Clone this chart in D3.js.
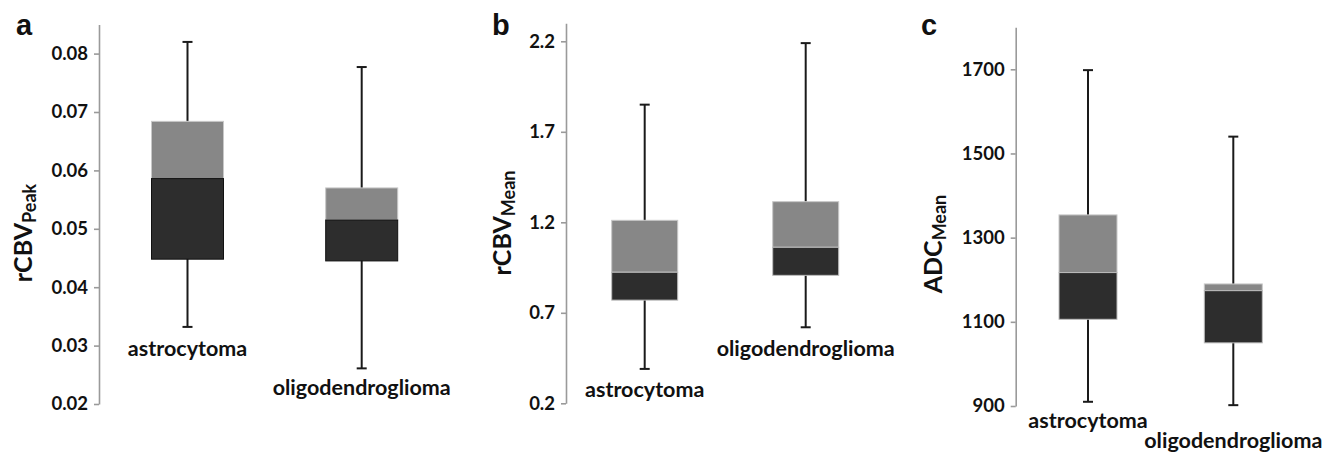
<!DOCTYPE html>
<html>
<head>
<meta charset="utf-8">
<script src="https://cdn.jsdelivr.net/npm/d3@7"></script>
<style>
  body { margin: 0; background: #fff; }
  svg { display: block; }
  .tick text { font-family: Lato, sans-serif; font-weight: 700; font-size: 18.5px; fill: #111; }
  .cat { font-family: Lato, sans-serif; font-weight: 700; font-size: 21.5px; fill: #111; }
  .ytitle { font-family: Lato, sans-serif; font-weight: 700; font-size: 25px; fill: #111; }
  .letter { font-family: "Liberation Sans", Arial, sans-serif; font-weight: 700; font-size: 29px; fill: #111; }
</style>
</head>
<body>
<svg width="1336" height="455"></svg>
<script>
// groups
const categories = ['astrocytoma', 'oligodendroglioma'];

// a - rCBV peak
const peakMin = [0.0332, 0.0261];
const peakQ1 = [0.0448, 0.0445];
const peakMedian = [0.0586, 0.0515];
const peakQ3 = [0.0684, 0.0570];
const peakMax = [0.0820, 0.0777];
const peakTicks = [0.02, 0.03, 0.04, 0.05, 0.06, 0.07, 0.08];

// b - rCBV mean
const rcbvMin = [0.39, 0.62];
const rcbvQ1 = [0.77, 0.907];
const rcbvMedian = [0.924, 1.062];
const rcbvQ3 = [1.211, 1.314];
const rcbvMax = [1.85, 2.19];
const rcbvTicks = [0.2, 0.7, 1.2, 1.7, 2.2];

// c - ADC mean
const adcMin = [910, 902];
const adcQ1 = [1106, 1050];
const adcMedian = [1217, 1174];
const adcQ3 = [1354, 1190];
const adcMax = [1698, 1540];
const adcTicks = [900, 1100, 1300, 1500, 1700];

const svg = d3.select('svg');

const panels = [
  {letter: 'a', lx: 16, title: 'rCBV', sub: 'Peak', tx: 32, ty: 233,
   axisX: 99, domain: [0.02, 0.085], range: [404, 24.4], ticks: peakTicks, fmt: d3.format('.2f'),
   xr: [187.5, 361.7], boxW: 72, labelDy: [29, 27],
   min: peakMin, q1: peakQ1, med: peakMedian, q3: peakQ3, max: peakMax},
  {letter: 'b', lx: 492, title: 'rCBV', sub: 'Mean', tx: 511, ty: 223,
   axisX: 566, domain: [0.2, 2.3], range: [403.3, 23.2], ticks: rcbvTicks, fmt: d3.format('.1f'),
   xr: [644.7, 805.7], boxW: 66, labelDy: [28, 29],
   min: rcbvMin, q1: rcbvQ1, med: rcbvMedian, q3: rcbvQ3, max: rcbvMax},
  {letter: 'c', lx: 921, title: 'ADC', sub: 'Mean', tx: 942, ty: 244,
   axisX: 1015.7, domain: [900, 1800], range: [406, 27.2], ticks: adcTicks, fmt: d3.format('d'),
   xr: [1088, 1233.3], boxW: 58, labelDy: [26, 43],
   min: adcMin, q1: adcQ1, med: adcMedian, q3: adcQ3, max: adcMax}
];

panels.forEach(p => {
  const y = d3.scaleLinear().domain(p.domain).range(p.range);
  const x = d3.scalePoint().domain(categories).range(p.xr);

  // axis
  const ax = svg.append('g')
    .attr('transform', `translate(${p.axisX},0)`)
    .call(d3.axisLeft(y).tickValues(p.ticks).tickFormat(p.fmt).tickSize(5).tickSizeOuter(0).tickPadding(6));
  ax.select('.domain').attr('stroke', '#9a9a9a').attr('stroke-width', 1.6);
  ax.selectAll('.tick line').attr('stroke', '#9a9a9a').attr('stroke-width', 1.6);

  const rows = categories.map((c, i) => ({
    c, min: p.min[i], q1: p.q1[i], med: p.med[i], q3: p.q3[i], max: p.max[i], dy: p.labelDy[i]
  }));

  const g = svg.append('g').selectAll('g').data(rows).enter().append('g');

  // whiskers
  g.append('line')
    .attr('x1', d => x(d.c)).attr('x2', d => x(d.c))
    .attr('y1', d => y(d.max)).attr('y2', d => y(d.min))
    .attr('stroke', '#1a1a1a').attr('stroke-width', 2);
  ['min', 'max'].forEach(k => {
    g.append('line')
      .attr('x1', d => x(d.c) - 5).attr('x2', d => x(d.c) + 5)
      .attr('y1', d => y(d[k])).attr('y2', d => y(d[k]))
      .attr('stroke', '#1a1a1a').attr('stroke-width', 2);
  });

  // upper box (median to q3)
  g.append('rect')
    .attr('x', d => x(d.c) - p.boxW / 2).attr('width', p.boxW)
    .attr('y', d => y(d.q3)).attr('height', d => y(d.med) - y(d.q3))
    .attr('fill', '#878787').attr('stroke', '#c8c8c8').attr('stroke-width', 1);

  // lower box (q1 to median)
  g.append('rect')
    .attr('x', d => x(d.c) - p.boxW / 2).attr('width', p.boxW)
    .attr('y', d => y(d.med)).attr('height', d => y(d.q1) - y(d.med))
    .attr('fill', '#2d2d2d').attr('stroke', p.letter === 'a' ? '#111' : '#bdbdbd').attr('stroke-width', 1);

  // group labels
  g.append('text')
    .attr('class', 'cat')
    .attr('x', d => x(d.c))
    .attr('y', d => y(d.min) + d.dy)
    .attr('text-anchor', 'middle')
    .text(d => d.c);

  // y title
  const t = svg.append('text')
    .attr('class', 'ytitle')
    .attr('transform', `translate(${p.tx},${p.ty}) rotate(-90)`)
    .attr('text-anchor', 'middle');
  t.append('tspan').text(p.title);
  t.append('tspan').attr('font-size', 18).attr('dy', 4).text(p.sub);

  svg.append('text')
    .attr('class', 'letter')
    .attr('x', p.lx).attr('y', 35)
    .text(p.letter);
});
</script>
</body>
</html>
